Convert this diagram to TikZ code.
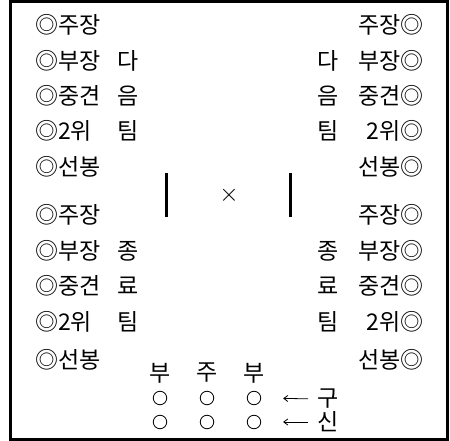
\documentclass[tikz,border=0pt]{standalone}
\usepackage{fontspec}
\newfontfamily\krfont{Noto Sans CJK KR}
\usetikzlibrary{arrows.meta}

\begin{document}
\begin{tikzpicture}[x=1pt, y=-1pt,
  kr/.style={font=\krfont\fontsize{23}{25}\selectfont, inner sep=0pt},
  lname/.style={kr, anchor=west},
  rname/.style={kr, anchor=east},
  seat/.style={draw, circle, minimum size=13.5pt, inner sep=0pt, line width=0.8pt},
  bar/.style={line width=3pt},
  arr/.style={-{Straight Barb[length=4pt,width=6pt]}, line width=0.8pt}]
\useasboundingbox (0,0) rectangle (450,441);
\draw[line width=3pt] (10,2) rectangle (447,439);
% two teams, players listed on both sides
\foreach \y/\nm [count=\i] in {25/주장, 61/부장, 96/중견, 131/2위, 167/선봉,
    215/주장, 251/부장, 286/중견, 322/2위, 360/선봉} {
  \node[lname] (pl\i) at (35,\y) {◎\nm};
  \node[rname] (pr\i) at (424,\y) {\nm◎};
}
\foreach \y/\t [count=\i] in {61/다, 96/음, 131/팀, 251/종, 286/료, 322/팀} {
  \node[kr] (tl\i) at (128,\y) {\t};
  \node[kr] (tr\i) at (328,\y) {\t};
}
% centre
\draw[bar] (166.5,173) -- (166.5,217);
\draw[bar] (290.5,173) -- (290.5,217);
\node[font=\fontsize{30}{30}\selectfont] (vs) at (229,195) {$\times$};
% seats
\foreach \x/\t [count=\i] in {160/부, 207/주, 254/부} {
  \node[kr] (h\i) at (\x,373) {\t};
  \node[seat] (sa\i) at (\x,398) {};
  \node[seat] (sb\i) at (\x,422) {};
}
\node[kr] (gu) at (328,399) {구};
\node[kr] (sin) at (328,422) {신};
\draw[arr, shorten <=9pt, shorten >=22pt] (gu.west) -- (sa3.east);
\draw[arr, shorten <=9pt, shorten >=22pt] (sin.west) -- (sb3.east);
\end{tikzpicture}
\end{document}
